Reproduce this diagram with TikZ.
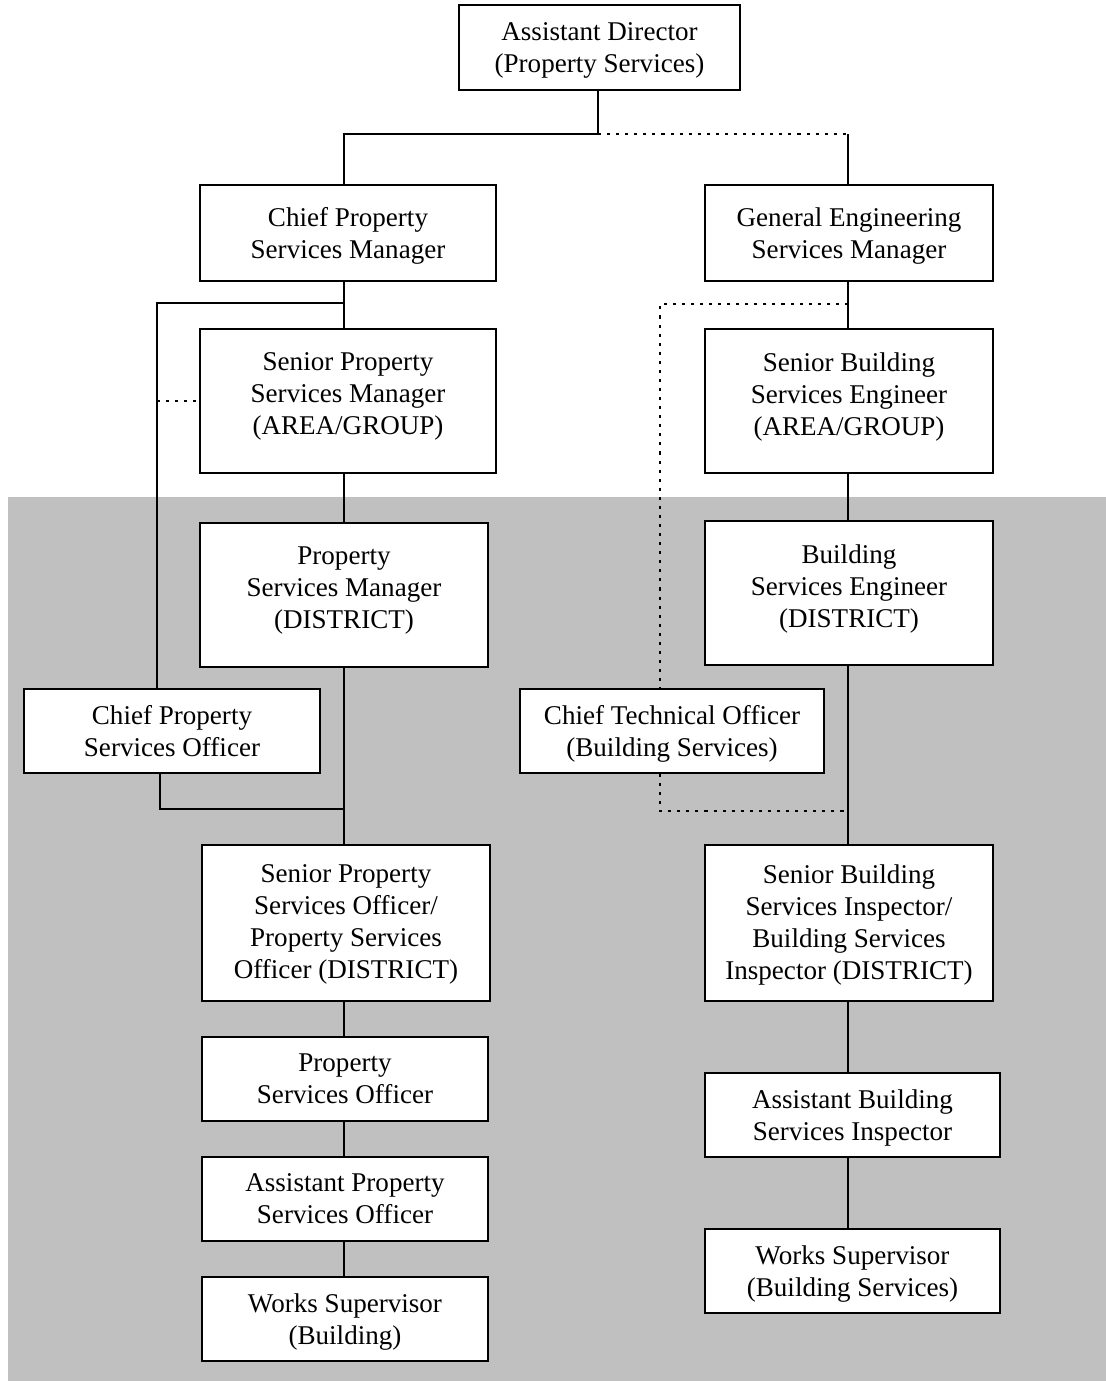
\documentclass[tikz,border=0pt]{standalone}
\usepackage{fontspec}
\setmainfont{Liberation Serif}
\definecolor{bggrey}{HTML}{C0C0C0}
\begin{document}
\begin{tikzpicture}[x=0.75pt,y=-0.75pt,
  box/.style={draw=black, fill=white, line width=1.3pt, align=center, inner sep=0pt,
    font=\fontsize{20.3}{24}\selectfont},
  two/.style={text depth=-1.4pt},
  three/.style={text depth=11pt},
  four/.style={text depth=2pt},
  sz/.style 2 args={minimum width=#1*0.75pt, minimum height=#2*0.75pt},
  conn/.style={line width=1.3pt},
  dot/.style={line width=2.2pt, dash pattern=on 2.3pt off 4.5pt}]
\fill[white] (0,0) rectangle (1106,1381);
\useasboundingbox (0,0) rectangle (1106,1381);
\fill[bggrey] (8,497) rectangle (1106,1381);

% nodes
\node[box, two, sz={281}{85}] (ad) at (599.5,47.5) {Assistant Director\\(Property Services)};
\node[box, two, sz={296}{96}] (cpsm) at (348,233) {Chief Property\\Services Manager};
\node[box, two, sz={288}{96}] (gesm) at (849,233) {General Engineering\\Services Manager};
\node[box, three, sz={296}{144}] (spsm) at (348,401) {Senior Property\\Services Manager\\(AREA/GROUP)};
\node[box, three, sz={288}{144}] (sbse) at (849,401) {Senior Building\\Services Engineer\\(AREA/GROUP)};
\node[box, three, sz={288}{144}] (psm) at (344,595) {Property\\Services Manager\\(DISTRICT)};
\node[box, three, sz={288}{144}] (bse) at (849,593) {Building\\Services Engineer\\(DISTRICT)};
\node[box, two, sz={296}{84}] (cpso) at (172,731) {Chief Property\\Services Officer};
\node[box, two, sz={304}{84}] (cto) at (672,731) {Chief Technical Officer\\(Building Services)};
\node[box, four, sz={288}{156}] (spso) at (346,923) {Senior Property\\Services Officer/\\Property Services\\Officer (DISTRICT)};
\node[box, four, sz={288}{156}] (sbsi) at (849,923) {Senior Building\\Services Inspector/\\Building Services\\Inspector (DISTRICT)};
\node[box, two, sz={286}{84}] (pso) at (345,1079) {Property\\Services Officer};
\node[box, two, sz={286}{84}] (apso) at (345,1199) {Assistant Property\\Services Officer};
\node[box, two, sz={286}{84}] (wsb) at (345,1319) {Works Supervisor\\(Building)};
\node[box, two, sz={295}{84}] (absi) at (852.5,1115) {Assistant Building\\Services Inspector};
\node[box, two, sz={295}{84}] (wsbs) at (852.5,1271) {Works Supervisor\\(Building Services)};

% junction coordinates
\coordinate (j1) at (598,134);
\coordinate (l1) at (157,303);
\coordinate (l2) at (160,809);
\coordinate (r1) at (660,304);
\coordinate (r2) at (660,811);
\coordinate (cl) at (344,0);
\coordinate (cr) at (848,0);

% top
\draw[conn] (j1 |- ad.south) -- (j1) -- (cl |- j1) -- (cl |- cpsm.north);
\draw[dot] (j1) -- (cr |- j1);
\draw[conn] (cr |- j1) -- (cr |- gesm.north);

% left column
\draw[conn] (cl |- cpsm.south) -- (cl |- spsm.north);
\draw[conn] (cl |- l1) -- (l1) -- (l1 |- cpso.north);
\draw[dot] (l1 |- spsm.west) -- (spsm.west);
\draw[conn] (cl |- spsm.south) -- (cl |- psm.north);
\draw[conn] (cl |- psm.south) -- (cl |- spso.north);
\draw[conn] (l2 |- cpso.south) -- (l2) -- (cl |- l2);
\draw[conn] (cl |- spso.south) -- (cl |- pso.north);
\draw[conn] (cl |- pso.south) -- (cl |- apso.north);
\draw[conn] (cl |- apso.south) -- (cl |- wsb.north);

% right column
\draw[conn] (cr |- gesm.south) -- (cr |- sbse.north);
\draw[dot] (cr |- r1) -- (r1) -- (r1 |- cto.north);
\draw[conn] (cr |- sbse.south) -- (cr |- bse.north);
\draw[conn] (cr |- bse.south) -- (cr |- sbsi.north);
\draw[dot] (r2 |- cto.south) -- (r2) -- (cr |- r2);
\draw[conn] (cr |- sbsi.south) -- (cr |- absi.north);
\draw[conn] (cr |- absi.south) -- (cr |- wsbs.north);
\end{tikzpicture}
\end{document}
